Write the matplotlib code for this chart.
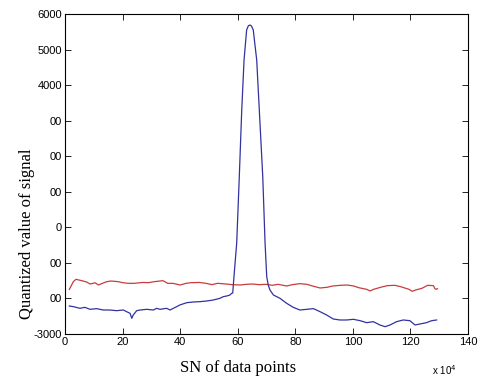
import matplotlib
matplotlib.use("Agg")
import matplotlib.pyplot as plt
import numpy as np

# red trace (x in units of 1e4 points, quantized value)
red_x = [1.5, 2.9, 3.8, 5.8, 7.5, 8.7, 10.5, 11.6, 13, 14.5, 16, 18.5, 20, 22, 24, 27, 29, 31,
         34, 35.7, 37.5, 40, 42, 44, 46.6, 49, 51, 53, 56, 58, 60.8, 63, 65, 67.5, 70, 72, 74,
         77, 79, 81.6, 84, 86, 88.6, 91, 93, 95.6, 98, 100.3, 102, 104.8, 106, 107.2, 109.6,
         112, 114.6, 116.6, 119.5, 120.6, 121.8, 124, 126, 128, 128.5, 129, 129.4]
red_y = [-1745, -1528, -1462, -1500, -1537, -1594, -1560, -1622, -1575, -1528, -1510, -1528,
         -1556, -1575, -1575, -1550, -1556, -1528, -1500, -1575, -1575, -1622, -1575, -1556,
         -1550, -1575, -1612, -1575, -1594, -1612, -1622, -1603, -1594, -1612, -1603, -1631,
         -1603, -1650, -1612, -1584, -1603, -1650, -1706, -1687, -1650, -1631, -1622, -1650,
         -1697, -1744, -1790, -1744, -1687, -1640, -1631, -1669, -1744, -1800, -1762, -1715,
         -1631, -1640, -1725, -1744, -1725]

# blue trace
blue_x = [1.5, 2.9, 5.2, 6.9, 8.7, 11, 13.3, 15.6, 17.9, 20.3, 21.4, 22.6, 23.2, 23.7, 24.9,
          26.1, 28.4, 30.7, 31.8, 33, 35.3, 36.5, 37.6, 38.8, 39.9, 42.3, 44.6, 46.9, 49.2,
          51.5, 53.8, 55, 56.2, 57.3, 57.9, 58.26, 58.7, 59.65, 60.55, 61.4, 62.2, 63.1, 63.7,
          64.3, 64.8, 65.4, 66.6, 67.5, 68.7, 69.5, 70.08, 70.6, 71.2, 72.4, 74.7, 77, 79.3,
          81.6, 84, 86.3, 88.6, 90.9, 93.2, 95.5, 97.8, 100.2, 102.5, 104.8, 107.1, 109.4,
          111.2, 112.9, 115.2, 117.5, 119.8, 121.6, 123.3, 125.6, 127.4, 129.1]
blue_y = [-2212, -2231, -2278, -2250, -2306, -2287, -2325, -2325, -2344, -2325, -2372, -2419,
          -2559, -2466, -2344, -2325, -2306, -2325, -2278, -2306, -2278, -2325, -2278, -2231,
          -2184, -2119, -2100, -2090, -2072, -2044, -1997, -1950, -1931, -1903, -1856, -1847,
          -1388, -441, 1424, 3300, 4706, 5550, 5670, 5690, 5660, 5550, 4706, 3300, 1424, -441,
          -1388, -1622, -1762, -1903, -1997, -2137, -2250, -2325, -2306, -2287, -2372, -2466,
          -2578, -2606, -2606, -2587, -2625, -2681, -2653, -2747, -2794, -2747, -2653, -2606,
          -2625, -2747, -2718, -2681, -2625, -2606]

xticks = [0, 20, 40, 60, 80, 100, 120, 140]
yticks = list(range(-3000, 7000, 1000))
# the source image has the left part of most y labels hidden behind the axis title
ytick_labels = ['-3000', '00', '00', '0', '00', '00', '00', '4000', '5000', '6000']

fig = plt.figure(figsize=(4.78, 3.79), dpi=100)
ax = fig.add_axes([65 / 478, 1 - 334 / 379, 403 / 478, 320 / 379])

ax.plot(red_x, red_y, color='#c83c3c', lw=0.9)
ax.plot(blue_x, blue_y, color='#3232a0', lw=0.9)

ax.set_xlim(0, 140)
ax.set_ylim(-3000, 6000)
ax.set_xticks(xticks)
ax.set_yticks(yticks)
ax.set_yticklabels(ytick_labels)
ax.tick_params(direction='in', top=True, right=True, length=4, width=0.6,
               labelsize=8, pad=2)
for lab in ax.get_xticklabels() + ax.get_yticklabels():
    lab.set_family('Liberation Sans')
for s in ax.spines.values():
    s.set_linewidth(0.8)

fig.text(27 / 478, 1 - 234 / 379, 'Quantized value of signal', rotation=90,
         ha='center', va='center', fontsize=12, family='Liberation Serif')
fig.text(238 / 478, 1 - 368 / 379, 'SN of data points', ha='center', va='center',
         fontsize=12, family='Liberation Serif')
fig.text(432 / 478, 1 - 370 / 379, r'x 10$^4$', ha='left', va='center',
         fontsize=7, family='Liberation Sans')

fig.savefig('out.png', dpi=100)
